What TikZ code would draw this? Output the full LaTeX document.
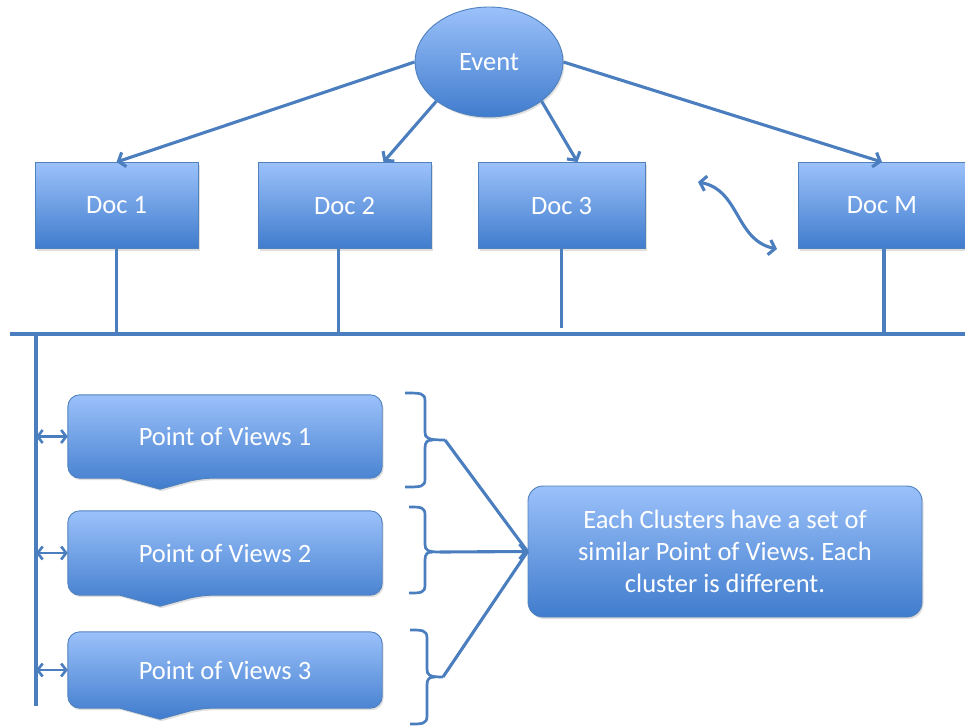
\documentclass[tikz,border=0pt]{standalone}
\usepackage{fontspec}
\setmainfont{Carlito}
\usetikzlibrary{arrows.meta,shapes.geometric,backgrounds,shadows}
\definecolor{boxtop}{RGB}{155,193,250}
\definecolor{boxbot}{RGB}{64,124,205}
\definecolor{edgec}{RGB}{79,129,189}
\definecolor{linc}{RGB}{74,126,190}
\frenchspacing
\begin{document}
\begin{tikzpicture}[x=1pt,y=-1pt,
  font=\fontsize{26.5}{32}\selectfont,
  shade/.style={draw=edgec, line width=0.9pt, top color=boxtop, bottom color=boxbot,
    drop shadow={opacity=0.25, shadow xshift=1.5pt, shadow yshift=-2pt}},
  box/.style={shade, text=white},
  doc/.style={box, rectangle, minimum height=86pt, inner sep=0pt},
  povtext/.style={rectangle, text=white, minimum width=314pt, inner sep=0pt},
  conn/.style={draw=linc, line width=3.1pt},
  arr/.style={conn, -{Straight Barb[length=6pt,width=15pt]}},
  dbl/.style={conn, line width=2.6pt, {Straight Barb[length=5pt,width=13pt]}-{Straight Barb[length=5pt,width=13pt]}},
  brace/.style={conn, line width=2.7pt}
]
\useasboundingbox (0,0) rectangle (965,726);

% Event and documents
\node[box, ellipse, minimum width=148pt, minimum height=110pt, inner sep=0pt] (ev) at (489,62) {Event};
\node[doc, minimum width=163pt] (d1) at (116.5,205.5) {Doc 1};
\node[doc, minimum width=173pt] (d2) at (344.5,205.5) {Doc 2};
\node[doc, minimum width=167pt] (d3) at (561.5,205.5) {Doc 3};
\node[doc, minimum width=168pt] (dm) at (882,205.5) {Doc M};

\draw[arr] (ev.west) -- (d1.north);
\draw[arr] (ev.south west) -- ([xshift=39pt]d2.north);
\draw[arr] (ev.south east) -- ([xshift=16pt]d3.north);
\draw[arr] (ev.east) -- (dm.north);

% wavy double arrow
\coordinate (w1) at (698,182);
\coordinate (w2) at (777,249);
\draw[conn, {Straight Barb[length=6pt,width=15pt]}-{Straight Barb[length=6pt,width=15pt]}]
  (w1) .. controls (740,190) and (735,240) .. (w2);

% bus
\coordinate (busL) at (10,334);
\coordinate (busR) at (965,334);
\draw[conn] (busL) -- (busR);
\draw[conn] (d1.south) -- (d1.south |- busL);
\draw[conn] ([xshift=-6pt]d2.south) -- ([xshift=-6pt]d2.south |- busL);
\draw[conn] (d3.south) -- ++(0,79);
\draw[conn] ([xshift=2pt]dm.south) -- ([xshift=2pt]dm.south |- busL);

% left vertical line
\coordinate (vtop) at (36,334);
\coordinate (vbot) at (36,706);
\draw[conn] (vtop) -- (vbot);

% points of view
\node[povtext, minimum height=83pt] (p1) at (225,436.5) {Point of Views 1};
\node[povtext, minimum height=84pt] (p2) at (225,553) {Point of Views 2};
\node[povtext, minimum height=76pt] (p3) at (225,670) {Point of Views 3};
\begin{scope}[on background layer]
\foreach \p in {p1,p2,p3}{
  \path[shade, rounded corners=12pt] (\p.north west) -- (\p.north east) -- (\p.south east)
    -- ([xshift=-25pt]\p.south) [rounded corners=0.5pt] -- ([xshift=-65pt,yshift=-11pt]\p.south)
    -- ([xshift=-105pt]\p.south) [rounded corners=12pt] -- (\p.south west) -- cycle;
}
\end{scope}

\draw[dbl] (vtop |- p1.west) -- (p1.west);
\draw[dbl] (vtop |- p2.west) -- (p2.west);
\draw[dbl] (vtop |- p3.west) -- (p3.west);

% cluster box
\node[box, rectangle, rounded corners=15pt, minimum width=394pt, minimum height=131pt,
  align=center, inner sep=0pt] (cl) at (725,551.5)
  {Each Clusters have a set of\\similar Point of Views. Each\\cluster is different.};

% braces
\coordinate (t1) at (445,440);
\coordinate (t2) at (440,552);
\coordinate (t3) at (443,677);
\draw[brace] (405,393) .. controls (421,393) and (425,393) .. (425,401) -- (425,432)
  .. controls (425,438) and (427,440) .. (t1);
\draw[brace] (405,487) .. controls (421,487) and (425,487) .. (425,479) -- (425,448)
  .. controls (425,442) and (427,440) .. (433,440);
\draw[brace] (409,507) .. controls (421,507) and (425,507) .. (425,515) -- (425,544)
  .. controls (425,550) and (427,552) .. (t2);
\draw[brace] (409,593) .. controls (421,593) and (425,593) .. (425,585) -- (425,560)
  .. controls (425,554) and (427,552) .. (433,552);
\draw[brace] (410,630) .. controls (422,630) and (427,630) .. (427,638) -- (427,669)
  .. controls (427,675) and (429,677) .. (t3);
\draw[brace] (410,724) .. controls (422,724) and (427,724) .. (427,716) -- (427,685)
  .. controls (427,679) and (429,677) .. (435,677);

\draw[conn] (t1) -- (cl.west);
\draw[arr] (t2) -- (cl.west);
\draw[conn] (t3) -- (cl.west);
\end{tikzpicture}
\end{document}
